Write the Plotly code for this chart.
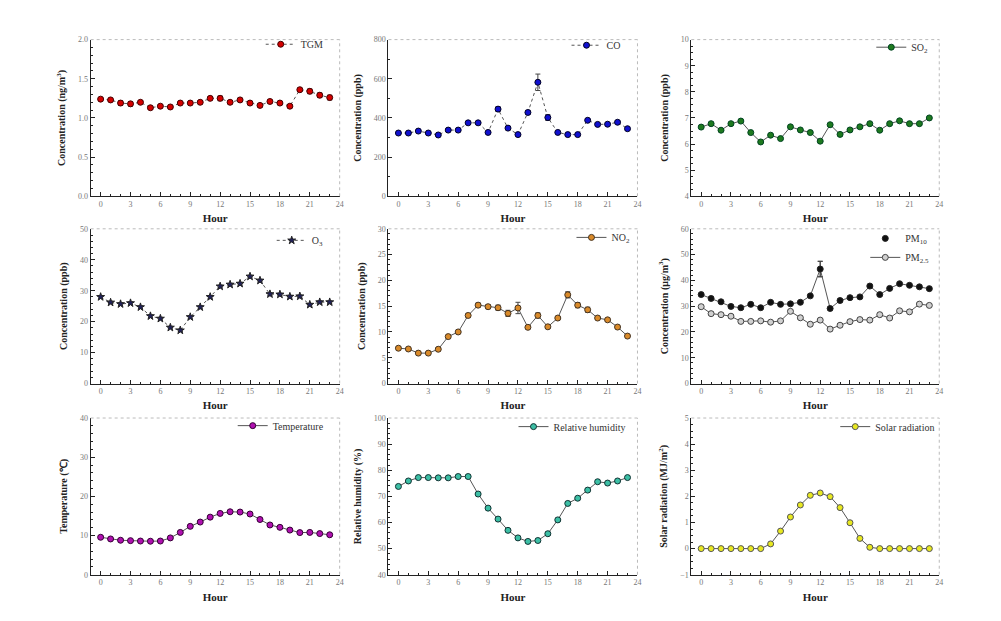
import plotly.graph_objects as go

hours = list(range(24))

tgm = [1.24, 1.23, 1.19, 1.18, 1.20, 1.13, 1.15, 1.14, 1.19, 1.19, 1.20, 1.25,
       1.25, 1.20, 1.23, 1.19, 1.16, 1.21, 1.19, 1.15, 1.36, 1.34, 1.29, 1.26]
tgm_err = [0.02, 0.02, 0.03, 0.03, 0.02, 0.02, 0.02, 0.02, 0.02, 0.02, 0.02, 0.02,
           0.03, 0.02, 0.02, 0.02, 0.02, 0.02, 0.02, 0.02, 0.02, 0.03, 0.03, 0.03]

co = [323, 323, 333, 323, 313, 338, 338, 375, 375, 326, 445, 348,
      315, 428, 582, 402, 326, 315, 315, 388, 367, 368, 378, 345]
co_err = [5, 5, 5, 5, 5, 8, 8, 6, 6, 5, 12, 8,
          5, 10, 42, 15, 5, 5, 5, 5, 5, 5, 5, 6]

so2 = [6.65, 6.78, 6.53, 6.78, 6.88, 6.44, 6.08, 6.34, 6.21, 6.66, 6.54, 6.44,
       6.11, 6.74, 6.37, 6.54, 6.66, 6.78, 6.53, 6.78, 6.89, 6.78, 6.78, 7.00]
so2_err = [0.05] * 24

o3 = [28.0, 26.2, 25.7, 26.0, 24.7, 21.8, 21.0, 18.1, 17.2, 21.5, 24.7, 28.0,
      31.4, 32.0, 32.3, 34.6, 33.3, 28.9, 28.8, 28.1, 28.2, 25.5, 26.3, 26.3]
o3_err = [0.4] * 24

no2 = [6.85, 6.7, 5.9, 5.9, 6.65, 9.1, 10.0, 13.2, 15.2, 14.9, 14.7, 13.6,
       14.65, 10.9, 13.2, 11.0, 12.7, 17.2, 15.2, 14.3, 12.7, 12.35, 10.95, 9.2]
no2_err = [0.3, 0.3, 0.3, 0.3, 0.3, 0.3, 0.3, 0.4, 0.4, 0.4, 0.5, 0.6,
           1.1, 0.3, 0.5, 0.3, 0.3, 0.6, 0.5, 0.5, 0.3, 0.3, 0.3, 0.3]

pm10 = [34.5, 33.0, 31.7, 29.9, 29.4, 30.7, 29.4, 31.5, 30.7, 30.9, 31.5, 34.0,
        44.4, 29.1, 32.2, 33.3, 33.6, 37.8, 34.5, 36.9, 38.7, 38.1, 37.5, 36.8]
pm10_err = [0.5] * 12 + [3.0] + [0.5] * 11

pm25 = [29.8, 27.1, 26.7, 26.1, 24.1, 24.1, 24.3, 23.8, 24.3, 28.0, 25.5, 23.0,
        24.6, 21.1, 22.6, 24.0, 24.8, 24.6, 26.7, 25.4, 28.2, 27.8, 30.8, 30.3]
pm25_err = [0.6] * 24

temp = [9.56, 9.13, 8.8, 8.7, 8.6, 8.55, 8.6, 9.4, 10.8, 12.35, 13.45, 14.7,
        15.65, 16.07, 16.0, 15.5, 14.1, 12.7, 12.1, 11.4, 10.75, 10.8, 10.5, 10.2]
temp_err = [0.3] * 24

rh = [73.8, 75.9, 77.2, 77.2, 77.1, 77.1, 77.6, 77.6, 70.9, 65.5, 61.3, 57.0,
      54.1, 52.75, 53.1, 55.7, 61.0, 67.3, 69.3, 72.4, 75.6, 75.1, 75.9, 77.2]
rh_err = [0.6] * 24

solar = [0, 0, 0, 0, 0, 0, 0, 0.18, 0.67, 1.21, 1.67, 2.04,
         2.13, 1.99, 1.57, 0.99, 0.39, 0.05, 0, 0, 0, 0, 0, 0]
solar_err = [0.03] * 24

W, H = 1001, 621
FONT = "Liberation Serif"

col_px = [(83, 333), (382, 632), (686, 935)]
row_px = [(28, 187), (220, 377), (412, 571)]

panels = [
    (0, 0, [0, 2.0], 0.5, 0.1, "Concentration (ng/m<sup>3</sup>)", ".1f"),
    (0, 1, [0, 800], 200, 100, "Concentration (ppb)", ""),
    (0, 2, [4, 10], 1, 0.25, "Concentration (ppb)", ""),
    (1, 0, [0, 50], 10, 2, "Concentration (ppb)", ""),
    (1, 1, [0, 30], 5, 1, "Concentration (ppb)", ""),
    (1, 2, [0, 60], 10, 2, "Concentration (μg/m<sup>3</sup>)", ""),
    (2, 0, [0, 40], 10, 2, "Temperature (℃)", ""),
    (2, 1, [40, 100], 10, 2, "Relative humidity (%)", ""),
    (2, 2, [-1, 5], 1, 0.25, "Solar radiation (MJ/m<sup>2</sup>)", ""),
]

fig = go.Figure()
layout = dict(
    width=W, height=H, margin=dict(l=0, r=0, t=0, b=0),
    paper_bgcolor="white", plot_bgcolor="white", showlegend=True,
    font=dict(family=FONT, color="#333"),
)

shapes = []
for i, (r, c, yr, dt, mn, yt, fmt) in enumerate(panels, start=1):
    x0, x1 = col_px[c]
    y0, y1 = row_px[r]
    sx = "" if i == 1 else str(i)
    layout["xaxis" + sx] = dict(
        domain=[x0 / W, x1 / W], anchor="y" + sx, range=[-1, 24],
        tickmode="linear", tick0=0, dtick=3, ticks="inside", ticklen=4,
        tickcolor="#222", showline=True, linecolor="#222", linewidth=1,
        showgrid=False, zeroline=False,
        minor=dict(dtick=1, ticks="inside", ticklen=2, tickcolor="#222", showgrid=False),
        tickfont=dict(family=FONT, size=8, color="#777"),
        title=dict(text="<b>Hour</b>", font=dict(family=FONT, size=11, color="#222"), standoff=6),
    )
    layout["yaxis" + sx] = dict(
        domain=[1 - y1 / H, 1 - y0 / H], anchor="x" + sx, range=yr,
        tickmode="linear", tick0=yr[0], dtick=dt, ticks="inside", ticklen=4,
        tickcolor="#222", showline=True, linecolor="#222", linewidth=1,
        showgrid=False, zeroline=False, tickformat=fmt,
        minor=dict(dtick=mn, ticks="inside", ticklen=2, tickcolor="#222", showgrid=False),
        tickfont=dict(family=FONT, size=8, color="#777"),
        title=dict(text="<b>" + yt + "</b>", font=dict(family=FONT, size=10, color="#222"), standoff=10),
    )
    shapes.append(dict(type="line", xref="x" + sx + " domain", yref="y" + sx + " domain",
                       x0=0, x1=1, y0=1, y1=1, line=dict(color="#bbb", width=1, dash="dot")))
    shapes.append(dict(type="line", xref="x" + sx + " domain", yref="y" + sx + " domain",
                       x0=1, x1=1, y0=0, y1=1, line=dict(color="#bbb", width=1, dash="dot")))
layout["shapes"] = shapes


def add(i, y, err, name, color, symbol="circle", dash="solid", size=6,
        linecolor="#555", leg=None, mode="lines+markers", showlegend=True, outline="#222"):
    sx = "" if i == 1 else str(i)
    fig.add_trace(go.Scatter(
        x=hours, y=y, name=name, mode=mode,
        xaxis="x" + sx, yaxis="y" + sx,
        legend=leg or ("legend" + sx),
        showlegend=showlegend,
        line=dict(color=linecolor, width=1, dash=dash),
        marker=dict(color=color, symbol=symbol, size=size, line=dict(color=outline, width=1)),
        error_y=dict(type="data", array=err, visible=err is not None,
                     color="#444", thickness=1, width=2.5),
    ))


add(1, tgm, tgm_err, "TGM", "#d40000", dash="dot", outline="#400")
add(2, co, co_err, "CO", "#1010d0", dash="dot", outline="#002")
add(3, so2, so2_err, "SO<sub>2</sub>", "#1e7a1e", outline="#042")
add(4, o3, o3_err, "O<sub>3</sub>", "#20205a", symbol="star", size=6, dash="dot")
add(5, no2, no2_err, "NO<sub>2</sub>", "#d98a2a", outline="#432")
add(6, pm10, pm10_err, "PM10line", "#111", mode="lines", showlegend=False)
add(6, pm10, pm10_err, "PM<sub>10</sub>", "#111", mode="markers")
add(6, pm25, pm25_err, "PM<sub>2.5</sub>", "#d0d0d0", outline="#444")
add(7, temp, temp_err, "Temperature", "#b010b0", outline="#303")
add(8, rh, rh_err, "Relative humidity", "#3cbfa5", outline="#133")
add(9, solar, solar_err, "Solar radiation", "#e8e820", outline="#555")

legend_pos = {
    1: (322, 18), 2: (620, 19), 3: (929, 21),
    4: (322, 217), 5: (630, 214), 6: (930, 215),
    7: (322, 405), 8: (625, 406), 9: (936, 406),
}
for i, (px, py) in legend_pos.items():
    sx = "" if i == 1 else str(i)
    layout["legend" + sx] = dict(
        x=px / W, y=1 - py / H, xanchor="right", yanchor="top",
        xref="paper", yref="paper", bgcolor="rgba(0,0,0,0)",
        font=dict(family=FONT, size=10, color="#333"),
        itemwidth=30, tracegroupgap=0,
    )

fig.update_layout(**layout)
fig.write_html("out.html")
